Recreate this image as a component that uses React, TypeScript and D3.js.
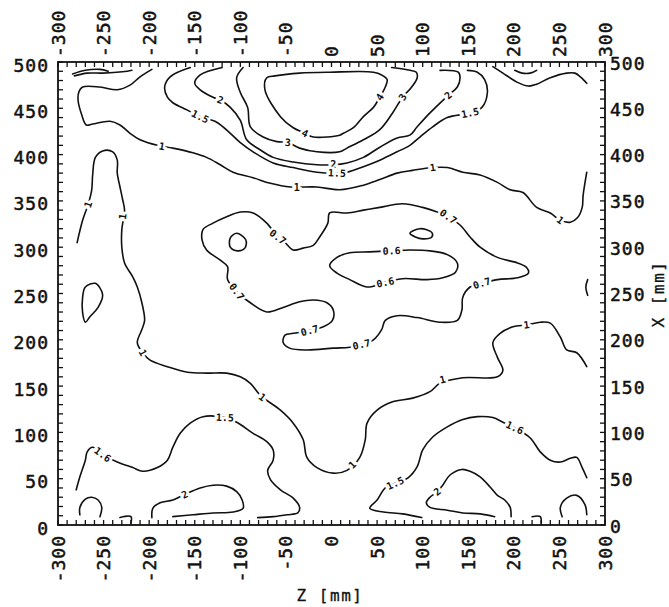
import React from 'react';
import * as d3 from 'd3';

type Pt = [number, number]; // [z, x] in mm

// contour lines as [z, x] in mm
const level4: Pt[] = [[-71,483],[-73,470],[-56,441],[-42,429],[-29,423],[-20,419],[9,421],[13,423],[24,429],[35,441],[46,451],[53,462],[59,473],[61,481],[55,486],[46,489],[-2,489],[-35,488],[-62,485]];
const level3: Pt[] = [[-97,494],[-104,483],[-100,467],[-92,451],[-89,430],[-75,419],[-60,414],[-48,413],[-35,407],[-16,403],[9,403],[17,407],[35,416],[53,427],[67,445],[78,462],[88,473],[94,483],[93,489],[86,491],[66,494]];
const level2Top: Pt[] = [[-120,494],[-144,486],[-150,477],[-144,470],[-130,462],[-122,459],[-111,451],[-100,437],[-93,416],[-78,405],[-64,397],[-42,392],[-16,389],[2,389],[17,391],[35,397],[53,408],[72,418],[86,421],[94,430],[108,445],[128,464],[138,473],[141,483],[139,489],[119,491]];
const level15Top: Pt[] = [[-155,494],[-177,484],[-183,473],[-180,462],[-174,456],[-158,448],[-144,441],[-126,435],[-111,423],[-100,413],[-86,403],[-64,391],[-42,386],[-16,381],[6,380],[17,381],[35,387],[53,394],[72,403],[86,410],[97,419],[111,430],[127,440],[152,445],[165,451],[171,467],[168,481],[160,489],[149,491]];
const level1Top: Pt[] = [[-197,492],[-210,484],[-221,475],[-235,470],[-254,473],[-273,473],[-277,468],[-278,459],[-274,443],[-269,432],[-262,433],[-243,436],[-232,432],[-221,423],[-210,416],[-191,410],[-174,407],[-152,402],[-137,397],[-122,389],[-108,381],[-86,375],[-67,369],[-45,365],[-16,365],[9,362],[35,367],[53,373],[72,380],[89,383],[111,386],[127,386],[144,381],[163,378],[182,370],[196,362],[210,359],[225,343],[240,337],[251,329],[262,327],[270,332],[275,343],[276,356],[280,381]];
const level1Mid: Pt[] = [[-279,305],[-273,329],[-267,346],[-263,362],[-262,378],[-259,397],[-251,404],[-240,403],[-235,394],[-235,380],[-232,365],[-229,351],[-227,340],[-230,319],[-230,300],[-227,283],[-218,268],[-213,257],[-208,240],[-205,221],[-208,211],[-213,197],[-207,186],[-199,178],[-180,171],[-158,165],[-137,164],[-115,164],[-100,160],[-89,153],[-78,140],[-56,124],[-42,110],[-31,92],[-27,73],[-16,62],[2,56],[17,59],[31,73],[37,92],[39,110],[50,124],[67,133],[89,137],[108,144],[119,153],[144,159],[182,160],[188,167],[182,181],[177,197],[185,207],[199,214],[214,216],[229,219],[240,218],[251,203],[258,189],[269,186],[280,171]];
const level07: Pt[] = [[-4,326],[-13,311],[-20,302],[-31,299],[-42,297],[-51,305],[-59,311],[-71,326],[-86,337],[-100,338],[-115,333],[-130,326],[-141,319],[-142,308],[-137,297],[-122,286],[-114,279],[-114,265],[-104,252],[-89,240],[-71,230],[-53,235],[-35,241],[-20,243],[-5,240],[2,232],[1,221],[-9,214],[-24,210],[-42,207],[-51,205],[-53,197],[-46,191],[-27,189],[2,191],[20,192],[33,195],[46,200],[55,211],[59,221],[72,226],[94,224],[119,219],[138,221],[143,232],[144,246],[152,257],[165,261],[182,265],[204,267],[216,272],[214,278],[204,283],[182,289],[163,300],[152,311],[141,324],[128,333],[116,338],[100,343],[78,347],[53,343],[35,340],[17,337],[-2,337]];
const level06: Pt[] = [[-2,280],[6,289],[20,294],[42,295],[66,296],[86,297],[108,296],[127,292],[138,283],[136,273],[122,267],[105,265],[78,266],[59,262],[39,257],[20,265],[6,272]];
const islandLeft: Pt[] = [[-111,310],[-104,315],[-94,308],[-95,299],[-103,296],[-111,300]];
const islandRight: Pt[] = [[86,315],[97,320],[110,316],[110,311],[100,309],[92,311]];
const islandEdge: Pt[] = [[-270,257],[-259,261],[-254,256],[-251,248],[-256,235],[-265,225],[-270,219],[-273,229],[-273,246]];
const arcRight: Pt[] = [[281,265],[279,257],[281,248]];
const level15Left: Pt[] = [[-280,38],[-276,52],[-270,70],[-268,79],[-262,84],[-251,76],[-235,68],[-218,62],[-207,58],[-191,62],[-180,70],[-174,84],[-166,99],[-155,110],[-141,117],[-117,116],[-104,111],[-86,99],[-71,90],[-64,81],[-64,70],[-70,59],[-67,49],[-56,38],[-42,29],[-35,19],[-37,13],[-49,11],[-64,9],[-81,8]];
const level15Right: Pt[] = [[99,8],[78,12],[57,14],[42,18],[50,27],[59,40],[70,45],[84,51],[94,63],[100,81],[111,95],[127,106],[144,114],[160,117],[177,116],[188,111],[201,105],[218,94],[229,79],[240,70],[251,68],[262,72],[269,73],[275,62],[280,51]];
const level2Left: Pt[] = [[-197,8],[-196,18],[-188,24],[-174,27],[-161,33],[-144,40],[-130,43],[-115,42],[-104,36],[-98,27],[-97,18],[-108,14],[-130,13],[-152,11],[-174,9]];
const level2Right: Pt[] = [[179,9],[163,12],[144,13],[127,16],[108,19],[104,24],[108,30],[116,36],[122,43],[130,54],[143,60],[152,58],[163,52],[174,41],[182,32],[190,27],[196,19],[197,9]];
const archLeft: Pt[] = [[-276,11],[-276,19],[-270,28],[-263,30],[-256,27],[-252,19],[-254,9]];
const archRight: Pt[] = [[253,9],[251,19],[258,29],[269,32],[278,22],[280,11]];
const stubLeft: Pt[] = [[-232,8],[-220,9],[-220,2]];
const stubRight: Pt[] = [[220,9],[229,9],[230,2]];
const cornerLeftA: Pt[] = [[-284,487],[-270,491],[-254,492],[-245,490]];
const cornerLeftB: Pt[] = [[-282,485],[-268,488],[-251,488],[-224,490],[-219,491]];
const cornerRightA: Pt[] = [[177,495],[188,488],[204,478],[216,474],[225,476],[240,483],[258,488],[267,488],[273,484],[280,477]];
const cornerRightB: Pt[] = [[201,491],[209,488],[218,488],[225,491]];

const contours: { points: Pt[]; closed?: boolean }[] = [
  { points: level4, closed: true },
  { points: level3 },
  { points: level2Top },
  { points: level15Top },
  { points: level1Top },
  { points: level1Mid },
  { points: level07, closed: true },
  { points: level06, closed: true },
  { points: islandLeft, closed: true },
  { points: islandRight, closed: true },
  { points: islandEdge, closed: true },
  { points: arcRight },
  { points: level15Left },
  { points: level15Right },
  { points: level2Left },
  { points: level2Right },
  { points: archLeft },
  { points: archRight },
  { points: stubLeft },
  { points: stubRight },
  { points: cornerLeftA },
  { points: cornerLeftB },
  { points: cornerRightA },
  { points: cornerRightB },
];

// contour labels as printed on the scan
const labelText = ['4', '4', '3', '3', '2', '2', '2', '1.5', '1.5', '1.5', '1', '1', '1', '1', '1', '1', '1', '1', '1', '1', '1', '0.7', '0.7', '0.7', '0.7', '0.7', '0.7', '0.6', '0.6', '1.6', '1.6', '1.5', '1.5', '2', '2'];
const labelZ = [-29, 53, -48, 78, -122, 2, 128, -144, 6, 152, -186, -38, 111, 251, -267, -229, -207, -76, 23, 122, 214, -59, -104, -24, 33, 165, 128, 66, 59, -251, 201, -117, 70, -161, 116];
const labelX = [423, 462, 413, 462, 459, 389, 464, 441, 380, 445, 409, 365, 386, 329, 346, 333, 186, 138, 65, 157, 216, 311, 252, 210, 195, 261, 333, 296, 262, 76, 105, 116, 45, 33, 36];

const zTicks = d3.range(-300, 301, 50);
const xTicks = d3.range(0, 501, 50);
const zMinor = d3.range(-300, 301, 10);
const xMinor = d3.range(0, 501, 10);

const W = 669;
const H = 607;
const left = 58, right = 605, top = 62, bottom = 525;
const FONT = '"DejaVu Sans Mono", "Liberation Mono", monospace';

export default function App() {
  const zPos = d3.scaleLinear().domain([-300, 300]).range([left, right]);
  const xPos = d3.scaleLinear().domain([0, 500]).range([bottom, top]);

  const screen = (p: Pt): [number, number] => [zPos(p[0]), xPos(p[1])];
  const openLine = d3.line<[number, number]>().curve(d3.curveCatmullRom.alpha(0.5));
  const closedLine = d3.line<[number, number]>().curve(d3.curveCatmullRomClosed.alpha(0.5));

  const paths = contours.map((c) => {
    const pts = c.points.map(screen);
    return (c.closed ? closedLine : openLine)(pts) || '';
  });

  // orient each label along the nearest contour segment
  const angleAt = (px: number, py: number) => {
    let best = Infinity;
    let ang = 0;
    contours.forEach((c) => {
      const pts = c.points.map(screen);
      if (c.closed) pts.push(pts[0]);
      for (let i = 0; i < pts.length - 1; i++) {
        const [ax, ay] = pts[i];
        const [bx, by] = pts[i + 1];
        const dx = bx - ax, dy = by - ay;
        const l2 = dx * dx + dy * dy || 1;
        const t = Math.max(0, Math.min(1, ((px - ax) * dx + (py - ay) * dy) / l2));
        const d = Math.hypot(px - (ax + t * dx), py - (ay + t * dy));
        if (d < best) {
          best = d;
          ang = (Math.atan2(dy, dx) * 180) / Math.PI;
        }
      }
    });
    if (ang > 90) ang -= 180;
    if (ang < -90) ang += 180;
    return ang;
  };

  return (
    <svg width={W} height={H} style={{ position: 'absolute', left: 0, top: 0, background: '#fff' }}>
      <rect x={0} y={0} width={W} height={H} fill="#fff" />

      {/* contour lines */}
      <g fill="none" stroke="#111" strokeWidth={1.6} strokeLinejoin="round" strokeLinecap="round">
        {paths.map((d, i) => (
          <path key={i} d={d} />
        ))}
      </g>

      {/* contour labels */}
      <g fontFamily={FONT} fontSize={10} fontWeight="bold" textAnchor="middle" dominantBaseline="central">
        {labelText.map((t, i) => {
          const px = zPos(labelZ[i]);
          const py = xPos(labelX[i]);
          return (
            <text
              key={i}
              transform={`translate(${px},${py}) rotate(${angleAt(px, py)})`}
              fill="#111"
              stroke="#fff"
              strokeWidth={5}
              style={{ paintOrder: 'stroke' }}
            >
              {t}
            </text>
          );
        })}
      </g>

      {/* frame and ticks */}
      <rect x={left} y={top} width={right - left} height={bottom - top} fill="none" stroke="#111" strokeWidth={1.8} />
      <g stroke="#111" strokeWidth={1.3}>
        {zMinor.map((v) => (
          <g key={'z' + v}>
            <line x1={zPos(v)} x2={zPos(v)} y1={bottom} y2={bottom - 5} />
            <line x1={zPos(v)} x2={zPos(v)} y1={top} y2={top + 5} />
          </g>
        ))}
        {xMinor.map((v) => (
          <g key={'x' + v}>
            <line x1={left} x2={left + 5} y1={xPos(v)} y2={xPos(v)} />
            <line x1={right} x2={right - 5} y1={xPos(v)} y2={xPos(v)} />
          </g>
        ))}
      </g>

      {/* tick labels */}
      <g fontFamily={FONT} fontSize={18} fill="#111" stroke="#111" strokeWidth={0.5} letterSpacing={1}>
        {zTicks.map((v) => (
          <text key={'b' + v} transform={`translate(${zPos(v)},${bottom + 10}) rotate(-90)`} textAnchor="end" dominantBaseline="central">
            {v}
          </text>
        ))}
        {zTicks.map((v) => (
          <text key={'t' + v} transform={`translate(${zPos(v)},${top - 5}) rotate(-90)`} textAnchor="start" dominantBaseline="central">
            {v}
          </text>
        ))}
        {xTicks.map((v) => (
          <text key={'l' + v} x={left - 9} y={xPos(v) + 3} textAnchor="end" dominantBaseline="central">
            {v}
          </text>
        ))}
        {xTicks.map((v) => (
          <text key={'r' + v} x={right + 5} y={xPos(v) + 1} textAnchor="start" dominantBaseline="central">
            {v}
          </text>
        ))}
      </g>

      {/* axis titles */}
      <g fontFamily={FONT} fontSize={16} fill="#111" stroke="#111" strokeWidth={0.3} letterSpacing={1.5}>
        <text x={330} y={595} textAnchor="middle" dominantBaseline="central">
          Z [mm]
        </text>
        <text transform={`translate(658,294) rotate(-90)`} textAnchor="middle" dominantBaseline="central">
          X [mm]
        </text>
      </g>
    </svg>
  );
}
